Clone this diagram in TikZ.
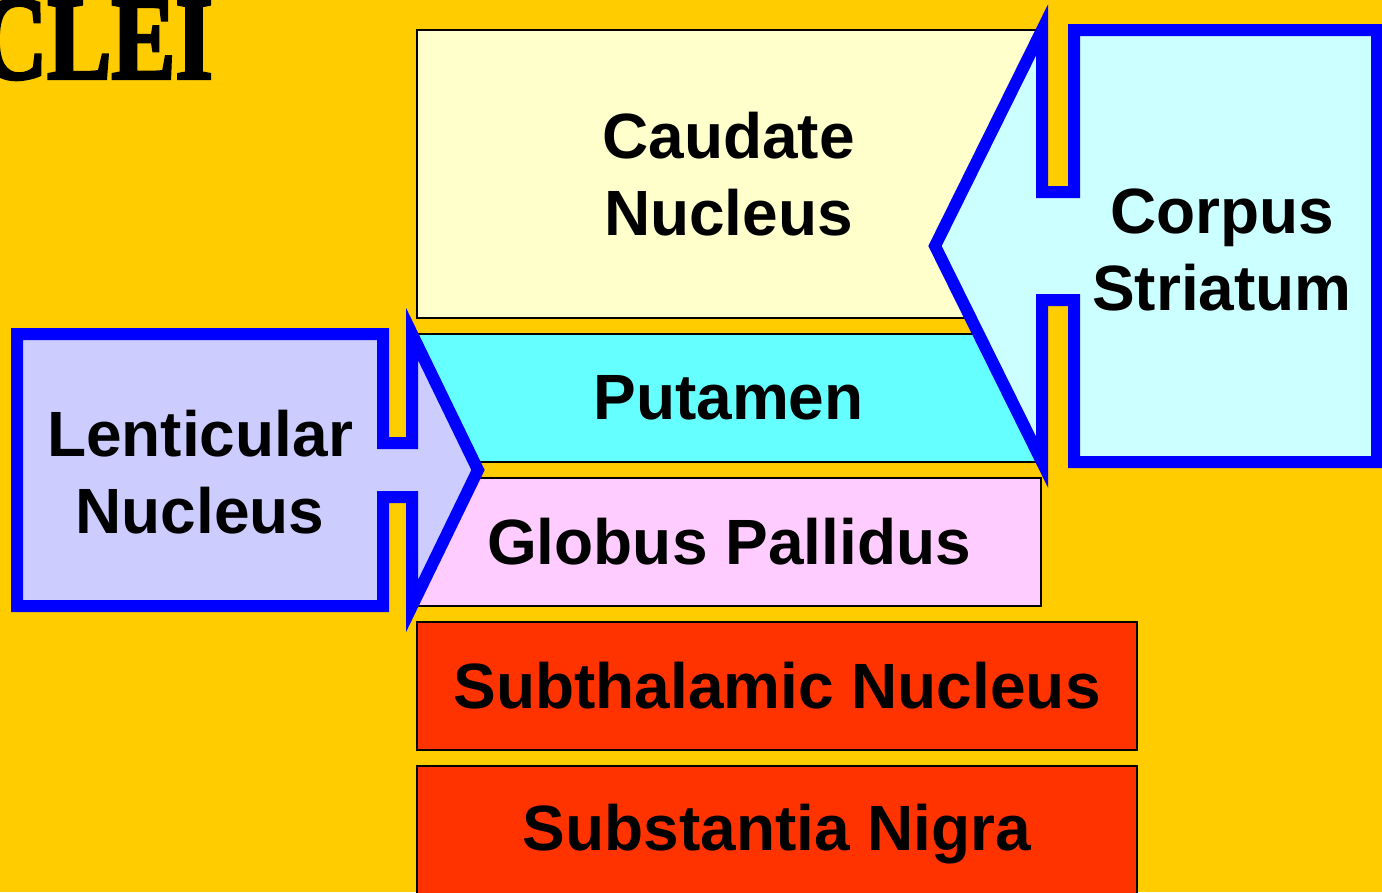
\documentclass[tikz,border=0pt]{standalone}
\usepackage{fontspec}
\setmainfont{Liberation Sans}
\newfontfamily\stencilfont[FakeStretch=0.8,FakeBold=2.5]{Liberation Serif}
\usetikzlibrary{positioning}

\definecolor{backdrop}{HTML}{FFCC00}
\definecolor{caudatefill}{HTML}{FFFFCC}
\definecolor{putamenfill}{HTML}{66FFFF}
\definecolor{pallidusfill}{HTML}{FFCCFF}
\definecolor{nucleusred}{HTML}{FF3300}
\definecolor{striatumfill}{HTML}{CCFFFF}
\definecolor{lenticfill}{HTML}{CCCCFF}
\definecolor{calloutblue}{HTML}{0000FF}

\begin{document}
\begin{tikzpicture}[x=1pt,y=-1pt,
        nuctext/.style={font=\fontsize{64}{77}\selectfont\bfseries,align=center,inner sep=0pt},
        box/.style={nuctext,draw=black,line width=2pt},
        callout/.style={draw=calloutblue,line width=12pt,line join=miter}]
        \useasboundingbox (0,0) rectangle (1382,892);
        \clip (0,0) rectangle (1382,892);
        \fill[backdrop] (0,0) rectangle (1382,892);

        % title, cut at the left edge
        \node[anchor=south east,inner sep=0pt,font=\stencilfont\bfseries\fontsize{120}{120}\selectfont] (title) at (213,80) {CLEI};

        % stacked nuclei
        \node[box,fill=caudatefill,minimum width=623pt,minimum height=288pt] (caudate) at (728.5,174) {Caudate\\Nucleus};
        \node[box,fill=putamenfill,minimum width=623pt,minimum height=128pt] (putamen) at (728.5,398) {Putamen};
        \node[box,fill=pallidusfill,minimum width=624pt,minimum height=128pt] (pallidus) at (729,542) {Globus Pallidus};
        \node[box,fill=nucleusred,minimum width=720pt,minimum height=128pt] (subthal) at (777,686) {Subthalamic Nucleus};
        \node[box,fill=nucleusred,minimum width=720pt,minimum height=136pt] (nigra) at (777,834) {Substantia Nigra};

        % corpus striatum callout
        \draw[callout,fill=striatumfill] (1377,30) -- (1074,30) -- (1074,192) -- (1042,192) -- (1042,30) -- (935,246)
            -- (1042,462) -- (1042,300) -- (1074,300) -- (1074,462) -- (1377,462) -- cycle;
        \node[nuctext] (striatum) at (1222,250) {Corpus\\Striatum};

        % lenticular nucleus callout
        \draw[callout,fill=lenticfill] (17,334) -- (383,334) -- (383,443) -- (412,443) -- (412,334) -- (478,470)
            -- (412,606) -- (412,497) -- (383,497) -- (383,606) -- (17,606) -- cycle;
        \node[nuctext] (lentic) at (200,472) {Lenticular\\Nucleus};
\end{tikzpicture}
\end{document}
